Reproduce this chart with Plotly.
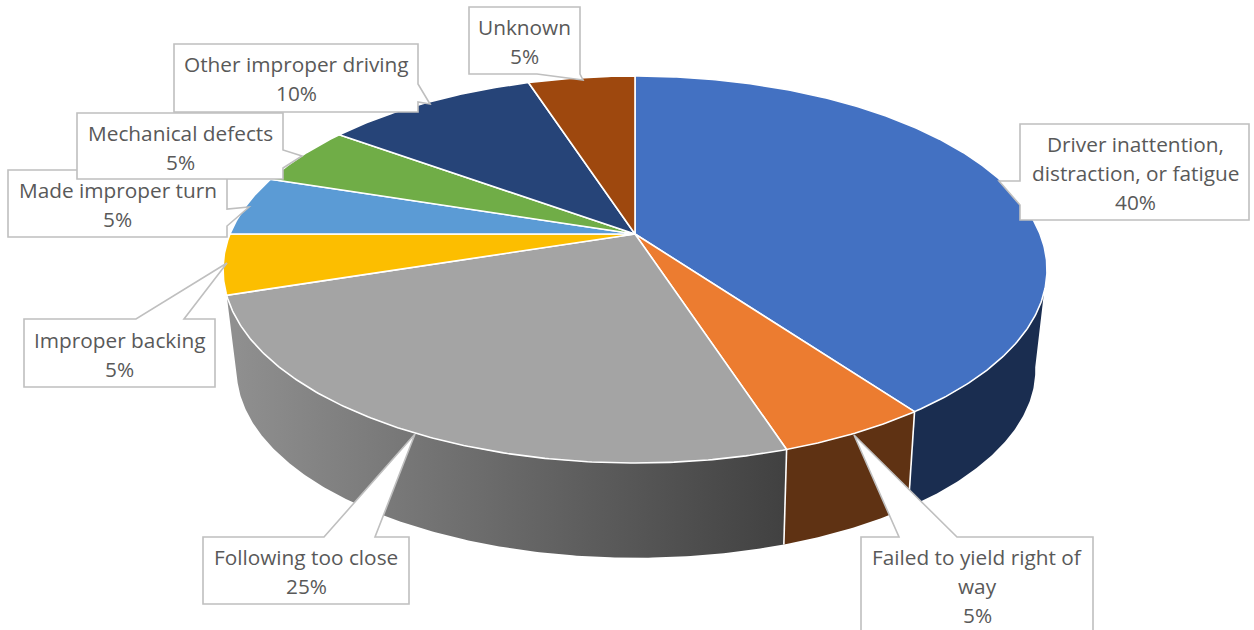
import math
import plotly.graph_objects as go

# ---- data -------------------------------------------------------------
categories = ["Driver inattention,<br>distraction, or fatigue", "Failed to yield right of<br>way",
              "Following too close", "Improper backing", "Made improper turn",
              "Mechanical defects", "Other improper driving", "Unknown"]
shares = [40, 5, 25, 5, 5, 5, 10, 5]
top_colors = ["#4371C2", "#EC7C30", "#A4A4A4", "#FCBE00", "#5B9BD5", "#70AD47", "#264478", "#9E480E"]

# ---- tilted disc geometry (projected circle) ----------------------------
TOP = dict(cx=635, cy=234, a=405, b=187, k=0.1835)
BOT = dict(cx=636, cy=334.3, a=392, b=181, k=0.19)


def project(deg, g):
    t = math.radians(deg)
    u, v = math.sin(t), math.cos(t)
    w = 1 + g["k"] * v
    return g["cx"] + g["a"] * u / w, g["cy"] - g["b"] * v / w


def arc(d0, d1, g):
    n = max(2, int(abs(d1 - d0) * 2))
    pts = [project(d0 + (d1 - d0) * i / n, g) for i in range(n + 1)]
    return [p[0] for p in pts], [p[1] for p in pts]


fig = go.Figure()
total = sum(shares)
edges = [0]
for s in shares:
    edges.append(edges[-1] + 360 * s / total)

WHITE = dict(color="white", width=1.6)


def side(t0, t1, b0, b1, **kw):
    xt, yt = arc(t0, t1, TOP)
    xb, yb = arc(b1, b0, BOT)
    fig.add_trace(go.Scatter(x=xt + xb + xt[:1], y=yt + yb + yt[:1], mode="lines", fill="toself",
                             line=kw.pop("line", dict(width=0)), hoverinfo="skip", **kw))


# extruded rim, back to front
side(edges[1] - 36.6, edges[1], edges[1] - 43.9, edges[1], fillcolor="#1A2D50")
side(edges[1], edges[2], edges[1], edges[2], fillcolor="#5F3213")
side(edges[2], edges[3], edges[2], edges[3] + 3.2,
     fillgradient=dict(type="horizontal", start=237, stop=784,
                       colorscale=[[0, "#8F8F8F"], [1, "#414141"]]),
     fillcolor="#777777")
# white rim seams
for i in (1, 2):
    p, q = project(edges[i], TOP), project(edges[i], BOT)
    fig.add_trace(go.Scatter(x=[p[0], q[0]], y=[p[1], q[1]], mode="lines", line=WHITE, hoverinfo="skip"))

# top face
for i, col in enumerate(top_colors):
    xa, ya = arc(edges[i], edges[i + 1], TOP)
    fig.add_trace(go.Scatter(x=[TOP["cx"]] + xa + [TOP["cx"]], y=[TOP["cy"]] + ya + [TOP["cy"]],
                             mode="lines", fill="toself", fillcolor=col, line=WHITE, hoverinfo="skip"))

# ---- callouts: outline path, then text centre --------------------------
callouts = [
    ([(8, 170), (227, 170), (227, 209), (249, 207), (227, 226), (227, 237), (8, 237)], 117.5),
    ([(174, 44), (418, 44), (418, 84), (430, 104), (418, 102), (418, 112), (174, 112)], 296),
    ([(77, 113), (283, 113), (283, 150), (302, 156), (283, 168), (283, 179), (77, 179)], 180),
    ([(469, 7), (580, 7), (580, 74), (583, 80), (537, 74), (469, 74)], 524.5),
    ([(1020, 124), (1249, 124), (1249, 220), (1020, 220), (1020, 205), (999, 181), (1020, 181)], 1135),
    ([(861, 537), (899, 537), (854, 435), (957, 537), (1093, 537), (1093, 640), (861, 640)], 977),
    ([(203, 537), (324, 537), (415, 434), (375, 537), (409, 537), (409, 604), (203, 604)], 306),
    ([(24, 319), (136, 319), (227, 263), (184, 319), (215, 319), (215, 387), (24, 387)], 119.5),
]
label_index = [4, 6, 5, 7, 0, 1, 2, 3]
line_top = [189.5, 63.5, 132.5, 26.5, 143.5, 556.5, 556.5, 339.5]
LINE_H = 29.3
shapes, notes = [], []
for (pts, xc), idx, y0 in zip(callouts, label_index, line_top):
    path = "M " + " L ".join(f"{x},{y}" for x, y in pts) + " Z"
    shapes.append(dict(type="path", path=path, xref="x", yref="y", fillcolor="white",
                       line=dict(color="#BFBFBF", width=1.6), layer="above"))
    lines = categories[idx].split("<br>") + [f"{shares[idx]}%"]
    for j, txt in enumerate(lines):
        notes.append(dict(x=xc, y=y0 + j * LINE_H, text=txt, showarrow=False, xanchor="center",
                          yanchor="middle", font=dict(family="Open Sans", size=20.8, color="#595959")))

fig.update_layout(width=1254, height=630, margin=dict(l=0, r=0, t=0, b=0), showlegend=False,
                  paper_bgcolor="white", plot_bgcolor="white", shapes=shapes, annotations=notes,
                  xaxis=dict(range=[0, 1254], visible=False, fixedrange=True),
                  yaxis=dict(range=[630, 0], visible=False, fixedrange=True))
fig.write_html("out.html", config=dict(displayModeBar=False),
               post_script="document.body.style.margin='0';document.body.style.overflow='hidden';")
